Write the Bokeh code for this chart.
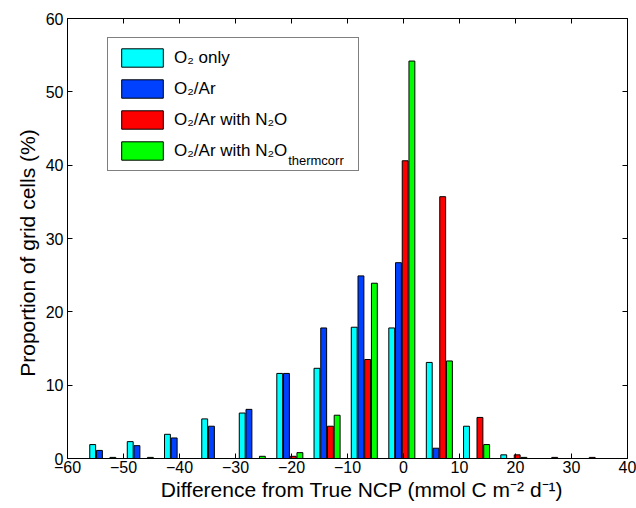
from bokeh.plotting import figure
from bokeh.models import (ColumnDataSource, FixedTicker, LinearAxis, Legend,
                          LegendItem, Range1d)
from bokeh.core.properties import value
from bokeh.transform import dodge
from bokeh.embed import file_html
from bokeh.resources import INLINE

# ---- data ----
bin_centers = [-53.7, -47.0, -40.35, -33.7, -27.0, -20.3, -13.65, -7.0,
               -0.3, 6.4, 13.05, 19.7, 26.4, 33.1]
o2_only = [1.9, 2.3, 3.3, 5.4, 6.2, 11.6, 12.3, 17.9, 17.8, 13.1, 4.4, 0.5, 0.0, 0.0]
o2_ar = [1.1, 1.75, 2.8, 4.4, 6.7, 11.6, 17.8, 24.9, 26.7, 1.4, 0.0, 0.0, 0.0, 0.0]
o2_ar_n2o = [0.0, 0.0, 0.0, 0.0, 0.0, 0.3, 4.4, 13.5, 40.6, 35.7, 5.6, 0.5, 0.15, 0.15]
o2_ar_n2o_tc = [0.15, 0.15, 0.0, 0.0, 0.3, 0.8, 5.9, 23.9, 54.2, 13.3, 1.9, 0.15, 0.0, 0.0]

series_labels = ["O\u2082 only", "O\u2082/Ar", "O\u2082/Ar with N\u2082O", "O\u2082/Ar with N\u2082O"]
series_colors = ["#00ffff", "#0040ff", "#ff0000", "#00ff00"]
series_keys = ["o2_only", "o2_ar", "o2_ar_n2o", "o2_ar_n2o_tc"]
x_ticks = [-60, -50, -40, -30, -20, -10, 0, 10, 20, 30, 40]
y_ticks = [0, 10, 20, 30, 40, 50, 60]

src = ColumnDataSource(dict(center=bin_centers, o2_only=o2_only, o2_ar=o2_ar,
                            o2_ar_n2o=o2_ar_n2o, o2_ar_n2o_tc=o2_ar_n2o_tc))

FONT = "Liberation Sans"
NB = "\u00a0"

p = figure(width=636, height=506, output_backend="svg", toolbar_location=None,
           x_range=Range1d(-60, 40), y_range=Range1d(0, 60),
           min_border_left=67, min_border_right=9, min_border_top=18,
           min_border_bottom=48)
p.xgrid.visible = False
p.ygrid.visible = False
p.outline_line_color = "black"
p.outline_line_width = 1
p.background_fill_color = "white"
p.border_fill_color = "white"

offsets = [-1.8, -0.6, 0.6, 1.8]
renderers = []
for key, col, off in zip(series_keys, series_colors, offsets):
    r = p.vbar(x=dodge("center", off, range=p.x_range), top=key, bottom=0,
               width=1.05, source=src, fill_color=col, line_color="black",
               line_width=1)
    renderers.append(r)

# main axes
xa = p.xaxis[0]
ya = p.yaxis[0]
xa.ticker = FixedTicker(ticks=x_ticks)
ya.ticker = FixedTicker(ticks=y_ticks)
xa.major_label_overrides = {t: (str(t).replace("-", "\u2212")) for t in x_ticks}
for ax in (xa, ya):
    ax.major_tick_in = 5
    ax.major_tick_out = 0
    ax.minor_tick_line_color = None
    ax.axis_line_color = "black"
    ax.major_tick_line_color = "black"
    ax.major_label_text_font = FONT
    ax.major_label_text_font_size = "16px"
    ax.major_label_text_color = "black"
    ax.axis_label_text_font = FONT
    ax.axis_label_text_font_size = "21px"
    ax.axis_label_text_font_style = "normal"
    ax.axis_label_text_color = "black"
xa.major_label_standoff = 2
xa.axis_label_standoff = 2
ya.major_label_standoff = 4
ya.axis_label_standoff = 4
xa.axis_label = NB * 5 + "Difference from True NCP (mmol C m\u207b\u00b2 d\u207b\u00b9)"
ya.axis_label = "Proportion of grid cells (%)" + NB * 5

# mirrored ticks on top and right (no labels)
top_ax = LinearAxis(ticker=FixedTicker(ticks=x_ticks))
right_ax = LinearAxis(ticker=FixedTicker(ticks=y_ticks))
for ax in (top_ax, right_ax):
    ax.major_tick_in = 5
    ax.major_tick_out = 0
    ax.minor_tick_line_color = None
    ax.major_label_text_font_size = "1px"
    ax.major_label_text_color = None
    ax.major_label_standoff = 0
    ax.axis_line_color = "black"
p.add_layout(top_ax, "above")
p.add_layout(right_ax, "right")

# subscript of the last legend entry (drawn under a transparent legend)
p.text(x=[-20.6], y=[40.6], text=["thermcorr"], text_font=value(FONT),
       text_font_size="13px", text_color="black", text_baseline="alphabetic",
       text_align="left")

legend = Legend(items=[LegendItem(label=lab, renderers=[r])
                       for lab, r in zip(series_labels, renderers)],
                location=(40, 287), orientation="vertical",
                glyph_width=52, glyph_height=23, spacing=8, padding=8,
                margin=0, label_standoff=6, label_width=176,
                label_text_font=FONT, label_text_font_size="17px",
                label_text_color="black", border_line_color="black",
                border_line_width=1, background_fill_color="white",
                background_fill_alpha=0.0)
p.add_layout(legend, "center")

open("out.html", "w").write(file_html(p, INLINE))
